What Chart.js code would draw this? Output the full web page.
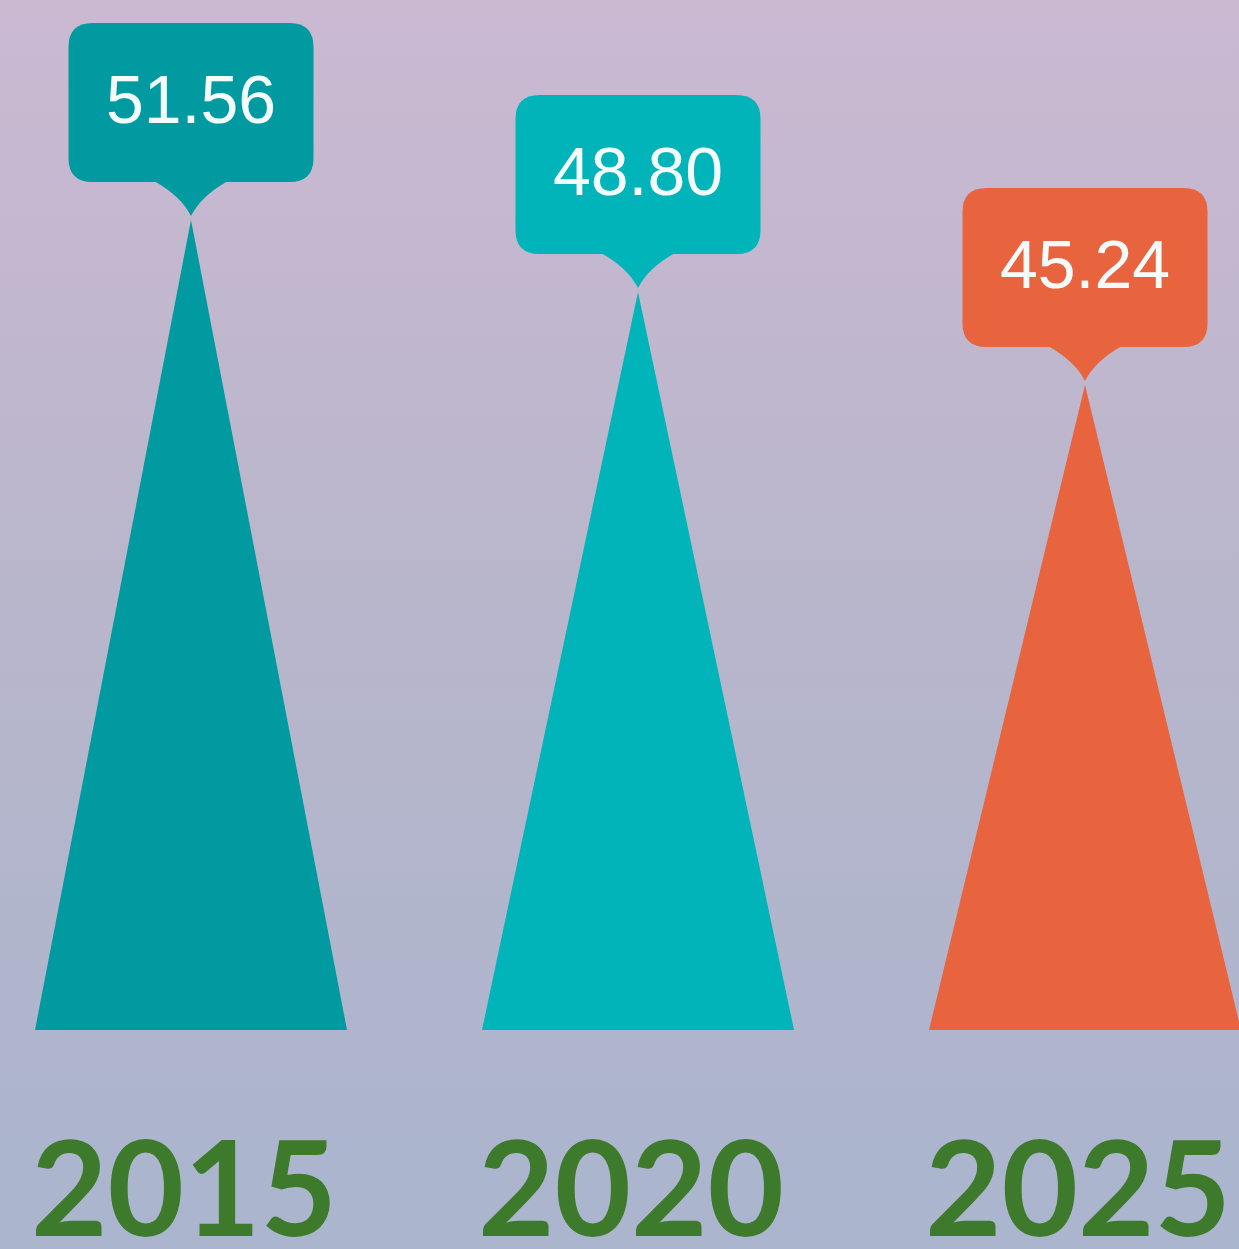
<!DOCTYPE html>
<html>
<head>
<meta charset="utf-8">
<title>2015 2020 2025</title>
<script src="https://cdn.jsdelivr.net/npm/chart.js@4/dist/chart.umd.min.js"></script>
<style>
    body{
        margin:0;
        background:#b9b7cc;
    }
    .wrap{
        width:1239px;
        height:1249px;
        position:relative;
    }
</style>
</head>
<body>

<div class="wrap">
    <canvas id="coneChart"></canvas>
</div>

<script>

const years = ['2015','2020','2025'];
const values = [51.56, 48.80, 45.24];
const coneColors = ['#009aa0','#00b4b9','#e8643f'];

// value axis range (the cones start at the bottom of it)
const yMin = 20.5;
const yMax = 60;

// purple to blue background
const backgroundPlugin = {
    id:'bgFill',
    beforeDraw(chart){
        let ctx = chart.ctx;
        let g = ctx.createLinearGradient(0, 0, 0, chart.height);
        g.addColorStop(0, '#cbb9d2');
        g.addColorStop(0.45, '#b9b6cb');
        g.addColorStop(1, '#aab5ce');
        ctx.save();
        ctx.fillStyle = g;
        ctx.fillRect(0, 0, chart.width, chart.height);
        ctx.restore();
    }
};

function roundBox(ctx, x, y, w, h, r){
    ctx.beginPath();
    ctx.moveTo(x + r, y);
    ctx.lineTo(x + w - r, y);
    ctx.quadraticCurveTo(x + w, y, x + w, y + r);
    ctx.lineTo(x + w, y + h - r);
    ctx.quadraticCurveTo(x + w, y + h, x + w - r, y + h);
    ctx.lineTo(x + r, y + h);
    ctx.quadraticCurveTo(x, y + h, x, y + h - r);
    ctx.lineTo(x, y + r);
    ctx.quadraticCurveTo(x, y, x + r, y);
    ctx.closePath();
}

// bars are drawn as triangles with a callout on top
const conePlugin = {
    id:'cones',
    beforeDatasetsDraw(chart){
        let ctx = chart.ctx;
        let meta = chart.getDatasetMeta(0);
        let ds = chart.data.datasets[0];

        meta.data.forEach((bar, i) => {
            let p = bar.getProps(['x','y','base','width'], true);
            let color = ds.backgroundColor[i];

            ctx.save();
            ctx.fillStyle = color;
            ctx.beginPath();
            ctx.moveTo(p.x - p.width / 2, p.base);
            ctx.lineTo(p.x, p.y);
            ctx.lineTo(p.x + p.width / 2, p.base);
            ctx.closePath();
            ctx.fill();

            // callout
            let boxW = 245;
            let boxH = 159;
            let tipY = p.y - 4;
            let boxBottom = tipY - 34;
            let boxTop = boxBottom - boxH;

            roundBox(ctx, p.x - boxW / 2, boxTop, boxW, boxH, 24);
            ctx.fill();

            ctx.beginPath();
            ctx.moveTo(p.x - 37, boxBottom - 1);
            ctx.quadraticCurveTo(p.x - 10, boxBottom + 14, p.x, tipY);
            ctx.quadraticCurveTo(p.x + 10, boxBottom + 14, p.x + 37, boxBottom - 1);
            ctx.closePath();
            ctx.fill();

            ctx.fillStyle = '#f4fbfb';
            ctx.font = '68px "Liberation Sans", Arial, sans-serif';
            ctx.textAlign = 'center';
            ctx.textBaseline = 'middle';
            ctx.fillText(ds.data[i].toFixed(2), p.x, boxTop + boxH / 2 + 2);
            ctx.restore();
        });

        return false;
    }
};

const coneCanvas =
document.getElementById('coneChart');

new Chart(coneCanvas, {

    type:'bar',

    data:{
        labels:years,
        datasets:[{
            data:values,
            base:yMin,
            backgroundColor:coneColors,
            barThickness:312
        }]
    },

    options:{
        responsive:true,
        maintainAspectRatio:false,
        animation:false,
        layout:{
            padding:{left:191, right:154, top:0, bottom:10}
        },
        plugins:{
            legend:{display:false},
            tooltip:{enabled:false}
        },
        scales:{
            x:{
                offset:false,
                grid:{display:false, drawTicks:false},
                border:{display:false},
                ticks:{
                    color:'#3e7a2c',
                    padding:97,
                    labelOffset:-7,
                    autoSkip:false,
                    maxRotation:0,
                    font:{family:'Lato', weight:'bold', size:132, lineHeight:1}
                },
                afterFit(scale){
                    scale.paddingLeft = 0;
                    scale.paddingRight = 0;
                    scale.height = 209;
                }
            },
            y:{
                display:false,
                min:yMin,
                max:yMax
            }
        }
    },

    plugins:[backgroundPlugin, conePlugin]
});

</script>
</body>
</html>
